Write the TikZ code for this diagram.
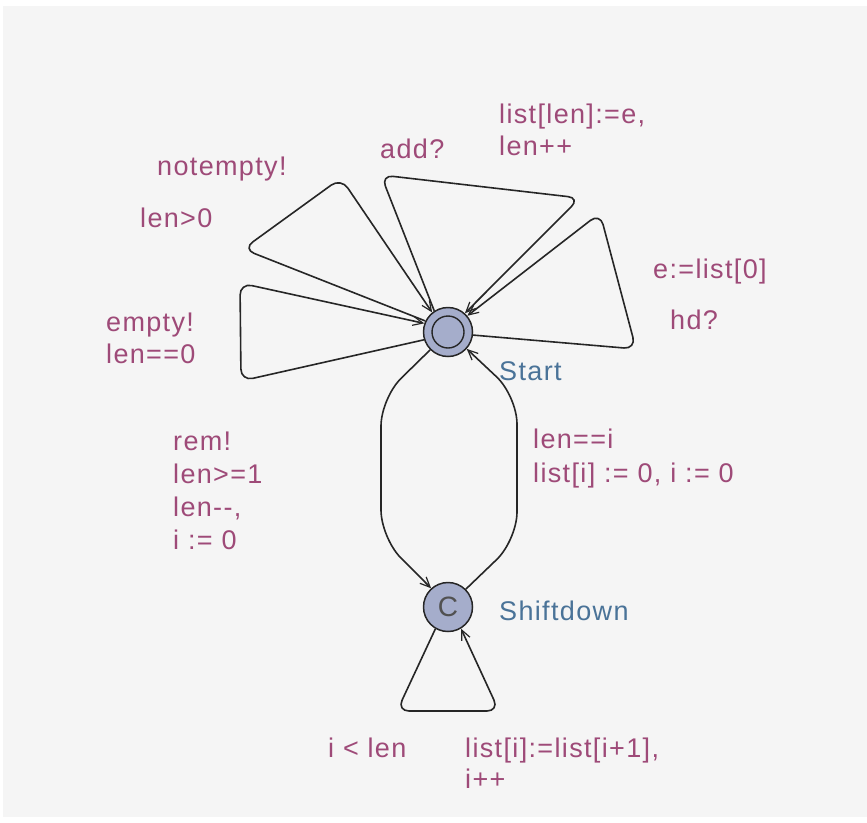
\documentclass[tikz,border=0pt]{standalone}
\usepackage{fontspec}
\setmainfont{Liberation Sans}[LetterSpace=5]
\usetikzlibrary{arrows.meta}
\definecolor{bgc}{HTML}{F5F5F5}
\definecolor{lab}{HTML}{9E4A78}
\definecolor{locn}{HTML}{4A7398}
\definecolor{locfill}{HTML}{A5ADCB}
\definecolor{edgec}{HTML}{262626}
\tikzset{
  loc/.style={circle, draw=edgec, fill=locfill, line width=1.5pt, minimum size=49pt, inner sep=0pt},
  edge/.style={draw=edgec, line width=1.6pt, -{Straight Barb[length=10pt,width=9pt,line width=1.2pt]}},
  lbl/.style={text=lab, anchor=base west, inner sep=0pt, font=\fontsize{27}{32}\selectfont},
  lname/.style={text=locn, anchor=base west, inner sep=0pt, font=\fontsize{27}{32}\selectfont}
}
\begin{document}
\begin{tikzpicture}[x=1pt,y=-1pt]
\useasboundingbox (0,0) rectangle (867,822);
\fill[bgc] (3,6) rectangle (867,817);

% locations
\node[loc] (S) at (448,332) {};
\draw[edgec, line width=1.4pt] (S.center) circle[radius=16pt];
\node[loc, font=\fontsize{28}{32}\selectfont, text=edgec!80] (D) at (448,607) {C};

\node[lname] (Sn) at (499,380) {Start};
\node[lname] (Dn) at (499,620) {Shiftdown};

% self loops on Start
\draw[edge, rounded corners=12pt] (S.154) -- (243,249) -- (341,178) -- (S.129);
\draw[edge, rounded corners=12pt] (S.123) -- (381,175) -- (580,198) -- (S.48);
\draw[edge, rounded corners=12pt] (S.-7) -- (636,349) -- (600,213) -- (S.40);
\draw[edge, rounded corners=12pt] (S.198) -- (241,381) -- (240,283) -- (S.160);

% Start <-> Shiftdown
\draw[edge, rounded corners=28pt] (S.225) -- (381,398) -- (381,538) -- (D.132);
\draw[edge, rounded corners=28pt] (D.45) -- (517,540) -- (517,396) -- (S.-42);

% self loop on Shiftdown
\draw[edge, rounded corners=12pt] (D.240) -- (397,711) -- (499,711) -- (D.-59);

% labels
\node[lbl] (l1) at (157,175) {notempty!};
\node[lbl] (l2) at (140,227) {len>0};
\node[lbl] (l3) at (380,158) {add?};
\node[lbl] (l4) at (499,123) {list[len]:=e,};
\node[lbl] (l5) at (499,155) {len++};
\node[lbl] (l6) at (653,278) {e:=list[0]};
\node[lbl] (l7) at (670,329) {hd?};
\node[lbl] (l8) at (106,331) {empty!};
\node[lbl] (l9) at (106,363) {len==0};
\node[lbl] (l10) at (173,450) {rem!};
\node[lbl] (l11) at (173,483) {len>=1};
\node[lbl] (l12) at (173,516) {len{-}{-},};
\node[lbl] (l13) at (173,549) {i := 0};
\node[lbl] (l14) at (533,448) {len==i};
\node[lbl] (l15) at (533,482) {list[i] := 0, i := 0};
\node[lbl] (l16) at (328,757) {i < len};
\node[lbl] (l17) at (465,757) {list[i]:=list[i+1],};
\node[lbl] (l18) at (465,788) {i++};
\end{tikzpicture}
\end{document}
